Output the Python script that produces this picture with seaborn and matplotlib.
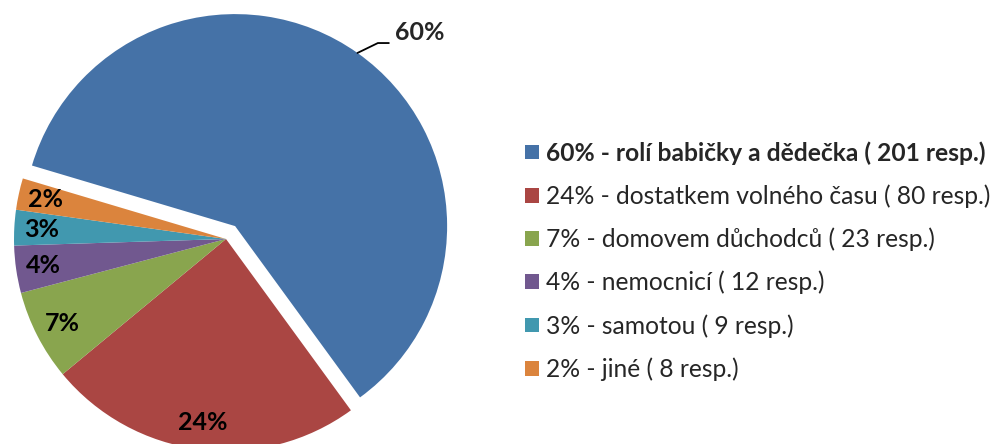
import matplotlib
matplotlib.use("Agg")
import matplotlib.pyplot as plt
import numpy as np
import seaborn as sns

# survey answers (Czech), respondents per answer
reasons = [
    "rolí babičky a dědečka",
    "dostatkem volného času",
    "domovem důchodců",
    "nemocnicí",
    "samotou",
    "jiné",
]
counts = [201, 80, 23, 12, 9, 8]
colors = ["#4572A7", "#AA4643", "#89A54E", "#71588F", "#4198AF", "#DB843D"]

sns.set_theme(style="white")
plt.rcParams["font.family"] = ["Lato", "DejaVu Sans"]

W, H = 994, 444
fig = plt.figure(figsize=(W / 100, H / 100), dpi=100)
ax = fig.add_axes([0, 0, 1, 1])

total = sum(counts)
pcts = [round(100 * c / total) for c in counts]
labels = [f"{p}% - {r} ( {c} resp.)" for p, r, c in zip(pcts, reasons, counts)]

R = 212
center = (226, H - 239)
explode = [15.8] + [0] * (len(counts) - 1)

wedges, _, autotexts = ax.pie(
    counts,
    colors=sns.color_palette(colors),
    startangle=163.4,
    counterclock=False,
    explode=explode,
    radius=R,
    center=center,
    autopct="%.0f%%",
    pctdistance=0.87,
    wedgeprops=dict(linewidth=0),
    textprops=dict(fontsize=18, fontweight="bold", color="black"),
)
autotexts[0].set_text("")

# outside label with leader line for the biggest slice
w0 = wedges[0]
cx, cy = w0.center
mid = np.deg2rad((w0.theta1 + w0.theta2) / 2)
a2 = mid - np.deg2rad(2.7)
x0, y0 = cx + R * np.cos(mid), cy + R * np.sin(mid)
x1, y1 = cx + 1.095 * R * np.cos(a2), cy + 1.095 * R * np.sin(a2)
ax.plot([x0, x1, x1 + 11], [y0, y1, y1], color="black", linewidth=1.3)
ax.text(x1 + 17, y1 + 3, f"{pcts[0]}%", fontsize=18, fontweight="bold",
        ha="left", va="baseline")

ax.set_xlim(0, W)
ax.set_ylim(0, H)
ax.set_aspect("auto")
ax.axis("off")

leg = fig.legend(
    wedges,
    labels,
    loc="center left",
    bbox_to_anchor=(515 / W, 1 - 261 / H),
    frameon=False,
    fontsize=17.7,
    handlelength=0.57,
    handleheight=0.55,
    handletextpad=0.3,
    labelspacing=0.8,
    borderaxespad=0,
)
leg.get_texts()[0].set_fontweight("bold")

fig.savefig("out.png", dpi=100)
